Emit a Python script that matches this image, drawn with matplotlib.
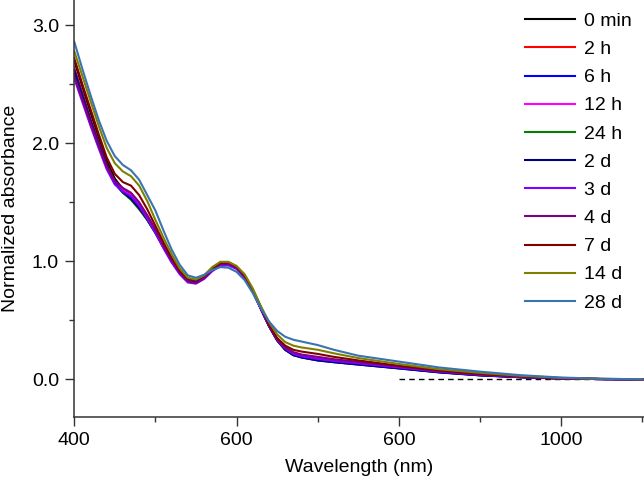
import numpy as np
import matplotlib.pyplot as plt

plt.rcParams['font.family'] = ['Liberation Sans', 'DejaVu Sans']

# wavelength grid (nm)
wl = [400, 410, 420, 430, 440, 450, 460, 470, 480, 490, 500, 510, 520, 530, 540,
      550, 560, 570, 580, 590, 600, 610, 620, 630, 640, 650, 660, 670, 680, 700,
      720, 750, 800, 850, 900, 950, 1000, 1050, 1100]

# normalized absorbance
a_0min = [2.70, 2.48, 2.26, 2.05, 1.85, 1.70, 1.61, 1.56, 1.48, 1.38, 1.26, 1.13, 1.01, 0.905, 0.835,
          0.83, 0.87, 0.935, 0.98, 0.985, 0.95, 0.875, 0.755, 0.605, 0.46, 0.34, 0.26, 0.215, 0.195, 0.17,
          0.155, 0.135, 0.10, 0.065, 0.038, 0.02, 0.008, 0.002, 0.0]
a_2h = [2.64, 2.43, 2.21, 2.01, 1.82, 1.67, 1.59, 1.54, 1.46, 1.36, 1.25, 1.12, 1.00, 0.90, 0.83,
        0.825, 0.865, 0.93, 0.975, 0.98, 0.945, 0.87, 0.75, 0.60, 0.455, 0.335, 0.255, 0.21, 0.19, 0.165,
        0.15, 0.13, 0.097, 0.062, 0.036, 0.019, 0.007, 0.002, 0.0]
a_6h = [2.62, 2.41, 2.19, 2.00, 1.81, 1.66, 1.58, 1.53, 1.45, 1.35, 1.24, 1.12, 1.00, 0.90, 0.83,
        0.82, 0.86, 0.925, 0.97, 0.975, 0.94, 0.865, 0.745, 0.595, 0.45, 0.33, 0.25, 0.205, 0.185, 0.16,
        0.145, 0.125, 0.093, 0.06, 0.034, 0.018, 0.007, 0.002, 0.0]
a_12h = [2.58, 2.38, 2.17, 1.98, 1.80, 1.67, 1.60, 1.56, 1.48, 1.37, 1.25, 1.12, 1.00, 0.90, 0.83,
         0.82, 0.86, 0.93, 0.975, 0.98, 0.945, 0.87, 0.75, 0.60, 0.455, 0.34, 0.265, 0.22, 0.20, 0.18,
         0.16, 0.14, 0.105, 0.068, 0.04, 0.021, 0.008, 0.002, 0.0]
a_24h = [2.60, 2.40, 2.18, 1.99, 1.80, 1.66, 1.58, 1.52, 1.44, 1.35, 1.24, 1.12, 1.00, 0.90, 0.83,
         0.825, 0.865, 0.93, 0.975, 0.98, 0.945, 0.87, 0.75, 0.60, 0.455, 0.33, 0.25, 0.205, 0.19, 0.165,
         0.15, 0.13, 0.095, 0.06, 0.035, 0.018, 0.007, 0.002, 0.0]
a_2d = [2.61, 2.40, 2.19, 1.99, 1.81, 1.66, 1.585, 1.53, 1.45, 1.355, 1.245, 1.12, 1.00, 0.90, 0.83,
        0.82, 0.86, 0.925, 0.97, 0.975, 0.94, 0.865, 0.745, 0.595, 0.45, 0.33, 0.25, 0.205, 0.185, 0.16,
        0.145, 0.125, 0.092, 0.058, 0.033, 0.017, 0.006, 0.002, 0.0]
a_3d = [2.55, 2.35, 2.15, 1.96, 1.78, 1.65, 1.59, 1.55, 1.47, 1.36, 1.24, 1.11, 0.99, 0.89, 0.82,
        0.81, 0.85, 0.915, 0.96, 0.965, 0.935, 0.86, 0.745, 0.595, 0.45, 0.335, 0.26, 0.215, 0.195, 0.172,
        0.155, 0.135, 0.10, 0.064, 0.037, 0.019, 0.007, 0.002, 0.0]
a_4d = [2.57, 2.37, 2.17, 1.98, 1.80, 1.68, 1.62, 1.58, 1.50, 1.39, 1.27, 1.13, 1.01, 0.905, 0.83,
        0.815, 0.855, 0.925, 0.975, 0.98, 0.945, 0.87, 0.75, 0.60, 0.455, 0.34, 0.27, 0.23, 0.21, 0.19,
        0.17, 0.148, 0.11, 0.07, 0.042, 0.022, 0.008, 0.002, 0.0]
a_7d = [2.72, 2.50, 2.29, 2.08, 1.88, 1.74, 1.67, 1.64, 1.56, 1.44, 1.30, 1.16, 1.03, 0.92, 0.85,
        0.84, 0.875, 0.94, 0.985, 0.99, 0.955, 0.88, 0.76, 0.61, 0.465, 0.35, 0.285, 0.25, 0.235, 0.215,
        0.19, 0.16, 0.115, 0.075, 0.045, 0.025, 0.01, 0.003, 0.0]
a_14d = [2.78, 2.57, 2.36, 2.15, 1.96, 1.83, 1.76, 1.72, 1.64, 1.51, 1.35, 1.20, 1.06, 0.94, 0.86,
         0.845, 0.88, 0.95, 0.995, 0.995, 0.96, 0.89, 0.77, 0.62, 0.485, 0.38, 0.315, 0.285, 0.27, 0.25,
         0.22, 0.18, 0.13, 0.085, 0.055, 0.03, 0.012, 0.004, 0.0]
a_28d = [2.86, 2.63, 2.41, 2.20, 2.02, 1.89, 1.815, 1.77, 1.69, 1.56, 1.43, 1.26, 1.10, 0.97, 0.88,
         0.86, 0.885, 0.925, 0.95, 0.945, 0.91, 0.84, 0.73, 0.60, 0.49, 0.41, 0.36, 0.335, 0.32, 0.29,
         0.25, 0.20, 0.15, 0.10, 0.065, 0.035, 0.015, 0.005, 0.0]

labels = ['0 min', '2 h', '6 h', '12 h', '24 h', '2 d', '3 d', '4 d', '7 d', '14 d', '28 d']
series = [a_0min, a_2h, a_6h, a_12h, a_24h, a_2d, a_3d, a_4d, a_7d, a_14d, a_28d]
colors = ['#000000', '#ff0000', '#0000ff', '#ff00ff', '#008000', '#000080',
          '#8000ff', '#800080', '#800000', '#808000', '#3a74b0']

fig = plt.figure(figsize=(6.44, 4.82), dpi=100)
ax = fig.add_axes([0.1152, 0.1349, 0.8848, 0.8651])

ax.plot([800, 1100], [0, 0], color='black', lw=1.0, ls=(0, (4, 3)))
for y, c, lab in zip(series, colors, labels):
    ax.plot(wl, y, color=c, lw=1.5, label=lab)

ax.set_xlim(400, 1102)
ax.set_ylim(-0.319, 3.212)
ax.set_xticks([400, 600, 800, 1000])
ax.set_xticklabels(['400', '600', '600', '1000'])
ax.set_xticks([500, 700, 900, 1100], minor=True)
ax.set_yticks([0, 1, 2, 3])
ax.set_yticklabels(['0.0', '1.0', '2.0', '3.0'])
ax.set_yticks([0.5, 1.5, 2.5], minor=True)

for s in ['top', 'right']:
    ax.spines[s].set_visible(False)
for s in ['left', 'bottom']:
    ax.spines[s].set_color('#333333')
    ax.spines[s].set_linewidth(1.1)
ax.tick_params(which='major', length=6.5, width=1.0, color='#333333', labelsize=14, pad=4.5)
ax.tick_params(which='minor', length=3.6, width=1.0, color='#333333')

ax.set_xlabel('Wavelength (nm)', fontsize=14, labelpad=7)
ax.set_ylabel('Normalized absorbance', fontsize=14, labelpad=9)

ax.legend(loc='upper right', bbox_to_anchor=(1.003, 1.003), frameon=False, fontsize=14,
          handlelength=2.57, handletextpad=0.46, labelspacing=0.543, borderaxespad=0.3)

fig.savefig('out.png', dpi=100)
